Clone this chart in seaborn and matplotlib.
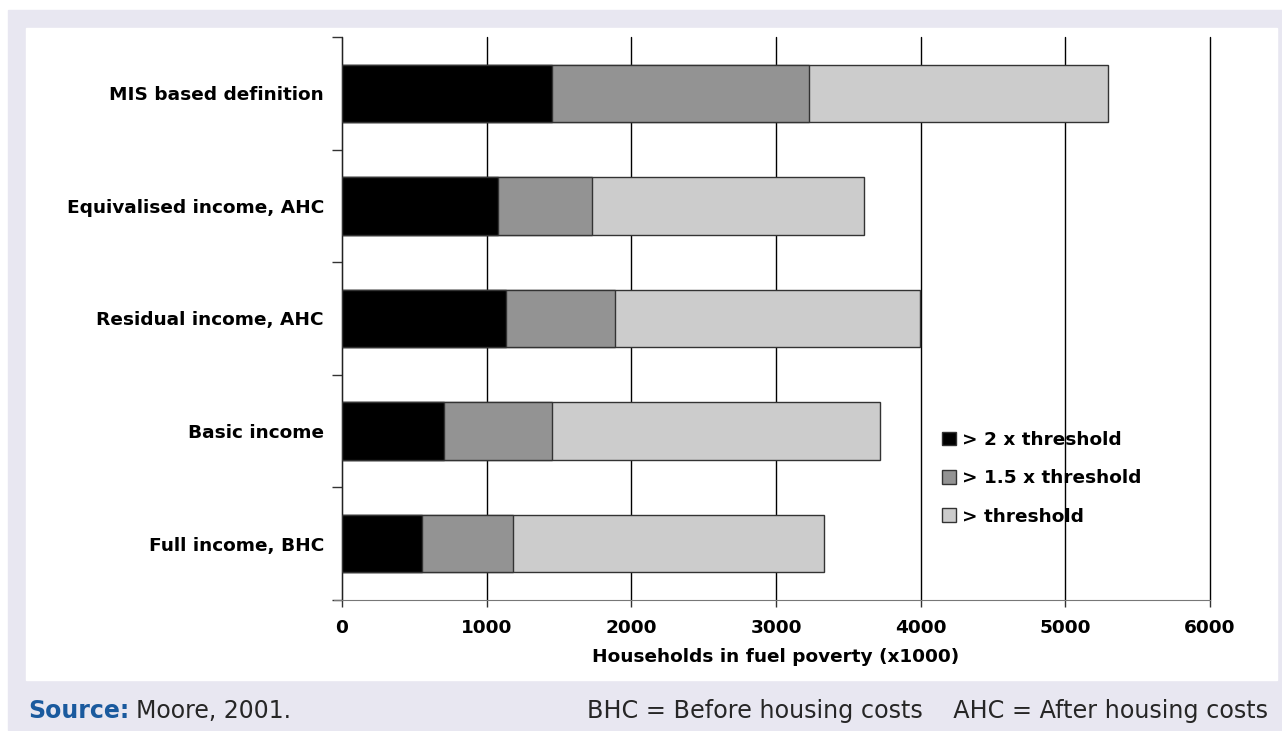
import numpy as np
import pandas as pd
import matplotlib
matplotlib.use('Agg')
import matplotlib.pyplot as plt
from matplotlib.patches import Rectangle, Patch
import seaborn as sns

# datos (miles de hogares)
categorias = ['MIS based definition', 'Equivalised income, AHC', 'Residual income, AHC',
              'Basic income', 'Full income, BHC']
mas_2x = [1452, 1078, 1134, 705, 553]
mas_15x = [1776, 650, 753, 747, 629]
mas_1x = [2067, 1880, 2108, 2267, 2150]
series = ['> 2 x threshold', '> 1.5 x threshold', '> threshold']
colores = ['#000000', '#939393', '#cccccc']
ticks_x = [0, 1000, 2000, 3000, 4000, 5000, 6000]

df = pd.DataFrame({'cat': categorias, 'a': mas_2x, 'b': mas_15x, 'c': mas_1x})
df['ab'] = df['a'] + df['b']
df['abc'] = df['ab'] + df['c']

sns.set_style('white', {'xtick.bottom': True, 'ytick.left': True})
plt.rcParams['font.family'] = ['DejaVu Sans']
plt.rcParams['text.color'] = 'black'
plt.rcParams['xtick.color'] = 'black'
plt.rcParams['ytick.color'] = 'black'
plt.rcParams['axes.labelcolor'] = 'black'

FS = 13.3
fig = plt.figure(figsize=(12.82, 7.31), dpi=100, facecolor='white')
W, H = 1282, 731
# marco lavanda y panel blanco
fig.patches.append(Rectangle((8 / W, 1 - 730 / H), (W - 8) / W, 720 / H,
                             transform=fig.transFigure, color='#e8e7f1', zorder=-10))
fig.patches.append(Rectangle((26 / W, 1 - 680 / H), (1277 - 26) / W, 652 / H,
                             transform=fig.transFigure, color='white', zorder=-9))

ax = fig.add_axes([342 / W, 1 - 600 / H, (1210 - 342) / W, (600 - 37) / H])
ax.set_facecolor('none')

# barras apiladas: primero el total y encima los tramos menores
for col, color in zip(['abc', 'ab', 'a'], colores[::-1]):
    sns.barplot(data=df, y='cat', x=col, orient='h', color=color, width=0.51,
                edgecolor='#333333', linewidth=1, saturation=1, ax=ax, zorder=3)

ax.set_xlim(0, 6000)
ax.set_ylim(4.5, -0.5)
ax.set_xticks(ticks_x)
ax.set_xticklabels([str(t) for t in ticks_x], fontsize=FS, fontweight='bold')
ax.tick_params(axis='x', direction='out', length=5, width=1, color='#333333', pad=8.5)
ax.set_yticks(range(len(categorias)))
ax.set_yticklabels(categorias, fontsize=FS, fontweight='bold')
ax.tick_params(axis='y', which='major', length=0, pad=13)
ax.set_yticks(np.arange(-0.5, 5, 1), minor=True)
ax.tick_params(axis='y', which='minor', left=True, length=7, width=1,
               color='#333333', direction='out')
ax.grid(axis='x', color='black', linewidth=1, zorder=0)
ax.set_axisbelow(True)
for gl in ax.get_xgridlines():
    gl.set_clip_on(False)

for s in ['top', 'right']:
    ax.spines[s].set_visible(False)
ax.spines['left'].set_color('#222222')
ax.spines['bottom'].set_color('#777777')
ax.spines['bottom'].set_bounds(-55, 6000)
ax.set_ylabel('')
ax.set_xlabel('Households in fuel poverty (x1000)', fontsize=FS, fontweight='bold', labelpad=8)

handles = [Patch(facecolor=c, edgecolor='#333333', linewidth=1) for c in colores]
ax.legend(handles, series, loc='upper left', bbox_to_anchor=(600 / 868, 1 - 394 / 563),
          frameon=False, prop={'size': FS, 'weight': 'bold'}, handlelength=0.76,
          handleheight=0.76, handletextpad=0.33, labelspacing=1.1, borderpad=0,
          borderaxespad=0)

# pie de figura
fig.canvas.draw()
r = fig.canvas.get_renderer()
t1 = fig.text(28 / W, 1 - 711 / H, 'Source:', fontsize=17, fontweight='bold',
              color='#1a5a9e', va='center')
bb = t1.get_window_extent(renderer=r)
fig.text((bb.x1 + 7) / W, 1 - 711 / H, 'Moore, 2001.', fontsize=17, color='#262626', va='center')
fig.text(1268 / W, 1 - 711 / H, 'BHC = Before housing costs    AHC = After housing costs',
         fontsize=17.2, color='#262626', va='center', ha='right')

fig.savefig('out.png', dpi=100, facecolor='white')
